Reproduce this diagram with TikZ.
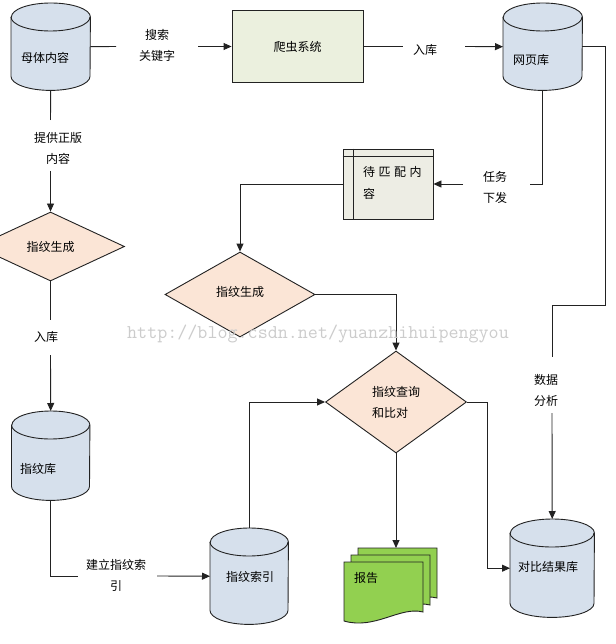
\documentclass[tikz,border=0pt]{standalone}
\usepackage{fontspec}
\newfontfamily\cjk{Noto Sans CJK SC}
\usetikzlibrary{arrows.meta,calc,shapes.geometric}
\definecolor{cylfill}{HTML}{D6E0EC}
\definecolor{diafill}{HTML}{FBE5D6}
\definecolor{boxfill}{HTML}{EBF0DE}
\definecolor{pendfill}{HTML}{EDEDE4}
\definecolor{repfill}{HTML}{92D050}
\definecolor{linec}{HTML}{222222}
\newcommand\dbcyl[6]{%
  \node[inner sep=0pt, minimum width=#4pt, minimum height=#5pt, anchor=north west] (#1) at (#2,-#3) {};
  \draw[cylsty] ([yshift=-#6pt]#1.north west) -- ([yshift=#6pt]#1.south west)
    arc[start angle=180, end angle=360, x radius=#4/2, y radius=#6]
    -- ([yshift=-#6pt]#1.north east)
    arc[start angle=0, end angle=180, x radius=#4/2, y radius=#6] -- cycle;
  \draw[cylsty, fill=none] ([yshift=-#6pt]#1.north west)
    arc[start angle=180, end angle=360, x radius=#4/2, y radius=#6];
}
\begin{document}
\begin{tikzpicture}[x=1pt, y=1pt,
  font=\cjk\fontsize{12}{21}\selectfont,
  conn/.style={draw=linec, line width=0.9pt},
  arr/.style={conn, -{Triangle[length=8pt,width=7pt]}},
  cylsty/.style={draw=linec, fill=cylfill, line width=0.9pt},
  dia/.style={diamond, draw=linec, fill=diafill, line width=0.9pt, inner sep=0pt, aspect=2},
  lbl/.style={inner sep=0pt, align=center},
  repsty/.style={draw=linec, fill=repfill, line width=0.9pt}]
\useasboundingbox (0,0) rectangle (615,-644);
\fill[white] (0,0) rectangle (615,-644);

% cylinders
\dbcyl{mt}{11}{3}{79}{87}{14}
\dbcyl{wy}{503}{3}{79}{87}{14}
\dbcyl{zwk}{11.5}{411}{78}{89}{14}
\dbcyl{zwsy}{210}{528}{78}{96}{14}
\dbcyl{db}{510}{519}{84}{98}{14}
\node[inner sep=0pt] (mtt) at (45,-58) {母体内容};
\node[inner sep=0pt] (wyt) at (531,-60) {网页库};
\node[inner sep=0pt] (zwkt) at (38,-469) {指纹库};
\node[inner sep=0pt] (zwsyt) at (250,-577) {指纹索引};
\node[inner sep=0pt] (dbt) at (548,-567) {对比结果库};

% boxes
\node[draw=linec, fill=boxfill, line width=0.9pt, minimum width=131pt, minimum height=72pt] (pc) at (297.5,-46.5) {爬虫系统};
\node[draw=linec, fill=pendfill, line width=0.9pt, minimum width=90pt, minimum height=70pt, inner sep=0pt] (dp) at (388,-184) {};
\draw[conn] ([xshift=11pt]dp.north west) -- ([xshift=11pt]dp.south west);
\draw[conn] ([yshift=-8pt]dp.north west) -- ([yshift=-8pt]dp.north east);
\node[anchor=north west, align=left, inner sep=0pt, font=\cjk\fontsize{12}{22}\selectfont] (dpt) at (363,-166) {待\hspace{3.5pt}匹\hspace{3.5pt}配\hspace{3.5pt}内\\容};

% diamonds
\node[dia, minimum width=148pt, minimum height=69pt] (d1) at (50.5,-246.5) {指纹生成};
\node[dia, minimum width=150pt, minimum height=85pt] (d2) at (240,-294.5) {\raisebox{6pt}{指纹生成}};
\node[dia, minimum width=141pt, minimum height=102pt, align=left] (d3) at (396,-402) {指纹查询\\和比对};

% report (stacked documents)
\node[inner sep=0pt, minimum width=93pt, minimum height=74pt, anchor=north west] (rep) at (344,-548) {};
\draw[repsty] (358,-548) -- (437,-548) -- (437,-598) .. controls (414,-592) and (389,-616) .. (358,-607) -- cycle;
\draw[repsty] (351,-555) -- (430,-555) -- (430,-605) .. controls (407,-599) and (382,-623) .. (351,-614) -- cycle;
\draw[repsty] (344,-562) -- (423,-562) -- (423,-612) .. controls (400,-606) and (375,-630) .. (344,-621) -- cycle;
\node[inner sep=0pt] (rept) at (366,-578) {报告};

% labels
\node[lbl] (l1) at (157,-45.5) {搜索\\关键字};
\node[lbl] (l2) at (425,-50) {入库};
\node[lbl] (l3) at (58,-148) {提供正版\\内容};
\node[lbl] (l4) at (495,-187) {任务\\下发};
\node[lbl] (l5) at (46,-337) {入库};
\node[lbl] (l6) at (546,-390) {数据\\分析};
\node[lbl] (l7) at (116,-575) {建立指纹索\\引};

% connector coordinates
\coordinate (g1a) at (116,-46.5);
\coordinate (g1b) at (198,-46.5);
\coordinate (g2a) at (403,-46.5);
\coordinate (g2b) at (465,-46.5);
\coordinate (c3a) at (605,-305);
\coordinate (c3b) at (552,-305);
\coordinate (c3c) at (552,-357);
\coordinate (c3d) at (552,-413);
\coordinate (c4a) at (530,-184);
\coordinate (c4b) at (463,-184);
\coordinate (g7a) at (50.5,-120);
\coordinate (g7b) at (50.5,-171);
\coordinate (g8a) at (50.5,-320);
\coordinate (g8b) at (50.5,-355);
\coordinate (g9a) at (78,-576);
\coordinate (g9b) at (157,-576);
\coordinate (c12) at (487,-402);

% connectors
\draw[conn] (mt.east) -- (g1a);
\draw[arr] (g1b) -- (pc.west);
\draw[conn] (pc.east) -- (g2a);
\draw[arr] (g2b) -- (wy.west);
\draw[conn] (wy.east) -| (c3a) -- (c3b) -- (c3c);
\draw[arr] (c3d) -- (db.north);
\draw[conn] (wy.south) |- (c4a);
\draw[arr] (c4b) -- (dp.east);
\draw[arr] (dp.west) -| (d2.north);
\draw[arr] (d2.east) -| (d3.north);
\draw[conn] (mt.south) -- (g7a);
\draw[arr] (g7b) -- (d1.north);
\draw[conn] (d1.south) -- (g8a);
\draw[arr] (g8b) -- (zwk.north);
\draw[conn] (zwk.south) |- (g9a);
\draw[arr] (g9b) -- (zwsy.west);
\draw[arr] (zwsy.north) |- (d3.west);
\draw[arr] (d3.south) -- (d3.south |- rep.north);
\draw[arr] (d3.east) -- (c12) |- (db.west);

% watermark
\node[anchor=base west, inner sep=0pt, text=black!20, font=\ttfamily\fontsize{19.5}{19.5}\selectfont] (wm) at (127,-338) {http://blog.csdn.net/yuanzhihuipengyou};
\end{tikzpicture}
\end{document}
